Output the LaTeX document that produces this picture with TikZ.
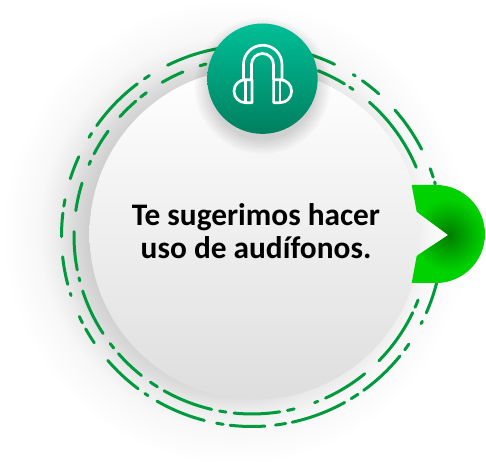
\documentclass[tikz,border=0pt]{standalone}
\usepackage{fontspec}
\usepackage{xcolor}
\setmainfont{Carlito}
\definecolor{AudioDash}{HTML}{009A3E}
\definecolor{AudioLime}{HTML}{00D200}
\definecolor{AudioDark}{HTML}{007C00}
\definecolor{AudioTop}{HTML}{00BF97}
\definecolor{AudioBottom}{HTML}{007F5F}
\definecolor{AudioDisc}{HTML}{DEDEDE}
\definecolor{AudioMid}{HTML}{F3F3F3}
\pgfdeclareradialshading{audioshadow}{\pgfpointorigin}{
  color(0bp)=(black!19);
  color(12.2bp)=(black!19);
  color(13.8bp)=(black!13);
  color(14.7bp)=(black!8);
  color(16.3bp)=(black!3);
  color(19.5bp)=(white);
  color(50bp)=(white)}
\tikzset{
  ringdash/.style={AudioDash,line width=2.25pt,line cap=round},
  phoneline/.style={white,line width=2pt,line join=round}
}
\begin{document}
\begin{tikzpicture}[x=0.75pt,y=0.75pt]
        \useasboundingbox (0,0) rectangle (486,461);

        \fill[shading=audioshadow] (-65,-71) rectangle (535,529);

        \coordinate (ringc) at (252,225);
        \foreach \a/\b in {116.3/64.3,57.9/57.2,54.6/48.3,41.4/27.1,20.7/18,16.5/15.8,
          -12/-23.8,-26.6/-27.4,-34.6/-36.7,-39.1/-54.1,-56.2/-58.6,-60.9/-77.8,
          -79.8/-82.9,-86.1/-96.6,-98.7/-100.7,-104.5/-119.9,-123.1/-124.2,
          -126.7/-139.2,-145.9/-150.8,-152.9/-155,-161.8/-162.5,-165.3/-173.7,
          -179.8/-186.9,-189/-191,-197.5/-204.6,-211.2/-212.6,-215.4/-233,-235.6/-237.4}
          \draw[ringdash] ([shift={(\a:190.5)}]ringc) arc[start angle=\a,end angle=\b,radius=190.5];
        \foreach \a/\b in {107/105,112.8/120.3,126.4/128.7,130.8/137.9,143.9/152.5,155.1/156.3,
          162.7/171.8,178.6/191,193.6/194.6,198/213.2,217.2/219,221.4/231.6,235.2/237.9,
          240.4/256.9,259.5/261.6,264.2/279,281.5/283.7,290.6/291.7,294.4/309.3,315.5/334.5,
          336.4/338.9,68.2/58.7,56.7/55.4,48.7/22.7}
          \draw[ringdash] ([shift={(\a:178)}]ringc) arc[start angle=\a,end angle=\b,radius=178];

        \shade[top color=white,middle color=AudioMid,bottom color=AudioDisc] (255,227) circle (165.5);

        \begin{scope}
          \path[clip] (411.7,276) -- (436,276) arc[start angle=90,end angle=-90,radius=49]
            -- (411.7,178) -- (416.7,205) -- (448.3,226) -- (416.7,249.3) -- cycle;
          \fill[AudioLime] (405,170) rectangle (490,280);
          \shade[inner color=AudioDark,outer color=AudioLime] (448.3,226) circle (36);
        \end{scope}

        \node[font=\bfseries\fontsize{23.5}{25}\selectfont,align=center,text=black]
          (advice) at (256,230) {Te sugerimos hacer\\uso de audífonos.};

        \foreach \r in {54,56,...,68}
          \fill[black,opacity=0.02] (262.5,375) circle (\r);
        \shade[top color=AudioTop,bottom color=AudioBottom] (262.5,382.3) circle (55.2);

        \draw[phoneline] (243.5,381.3) -- (243.5,396.5) arc[start angle=180,end angle=0,radius=19.25] -- (282,381.3);
        \draw[phoneline] (251.5,381.3) -- (251.5,396.5) arc[start angle=180,end angle=0,radius=11] -- (273.5,381.3);
        \draw[phoneline] (252,381.3) -- (245.5,381.3) arc[start angle=90,end angle=270,radius=11.5] -- (252,358.3) -- cycle;
        \draw[phoneline] (273.6,381.3) -- (280.1,381.3) arc[start angle=90,end angle=-90,radius=11.5] -- (273.6,358.3) -- cycle;
        \draw[phoneline] (245.5,381.3) -- (245.5,358.3);
        \draw[phoneline] (280.1,381.3) -- (280.1,358.3);
\end{tikzpicture}
\end{document}
